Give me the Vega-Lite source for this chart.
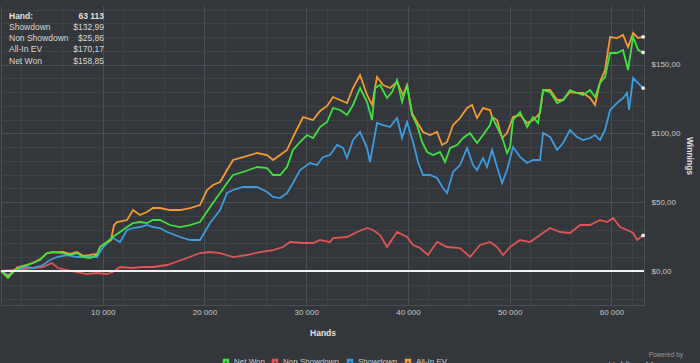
{
"$schema": "https://vega.github.io/schema/vega-lite/v6.json",
"width": 643,
"height": 299,
"autosize": {"type": "none"},
"padding": {"left": 1, "top": 6, "right": 56, "bottom": 58},
"background": "#33363a",
"config": {
  "font": "Liberation Sans",
  "view": {"stroke": null},
  "axis": {"labelOverlap": false}
},
"title": {"text": "Powered by", "subtitle": "Hold'em Manager", "orient": "bottom", "anchor": "end", "frame": "group", "fontSize": 6.5, "color": "#9a9a9a", "fontWeight": "normal", "subtitleFontSize": 9.5, "subtitleColor": "#b5b5b5", "subtitlePadding": 1, "offset": 0, "dx": 39, "dy": -17},
"datasets": {
  "runs": [
    {"series":"Net Won","hands":0,"winnings":0},{"series":"Net Won","hands":690,"winnings":-5.09},{"series":"Net Won","hands":1570,"winnings":2.18},{"series":"Net Won","hands":2560,"winnings":4.36},{"series":"Net Won","hands":3150,"winnings":5.81},{"series":"Net Won","hands":3830,"winnings":7.99},{"series":"Net Won","hands":4520,"winnings":13.08},{"series":"Net Won","hands":5110,"winnings":13.81},{"series":"Net Won","hands":6100,"winnings":13.08},{"series":"Net Won","hands":6780,"winnings":11.63},{"series":"Net Won","hands":7470,"winnings":13.08},{"series":"Net Won","hands":8060,"winnings":10.17},{"series":"Net Won","hands":8750,"winnings":9.45},{"series":"Net Won","hands":9440,"winnings":11.63},{"series":"Net Won","hands":9730,"winnings":17.44},{"series":"Net Won","hands":10420,"winnings":21.08},{"series":"Net Won","hands":11010,"winnings":24.71},{"series":"Net Won","hands":11700,"winnings":28.34},{"series":"Net Won","hands":12390,"winnings":31.98},{"series":"Net Won","hands":12980,"winnings":34.88},{"series":"Net Won","hands":13660,"winnings":35.61},{"series":"Net Won","hands":14350,"winnings":34.88},{"series":"Net Won","hands":14940,"winnings":37.06},{"series":"Net Won","hands":15630,"winnings":37.06},{"series":"Net Won","hands":16610,"winnings":33.43},{"series":"Net Won","hands":17600,"winnings":31.98},{"series":"Net Won","hands":18580,"winnings":33.43},{"series":"Net Won","hands":19560,"winnings":35.61},{"series":"Net Won","hands":20550,"winnings":46.51},{"series":"Net Won","hands":21530,"winnings":56.69},{"series":"Net Won","hands":22220,"winnings":63.95},{"series":"Net Won","hands":22810,"winnings":69.77},{"series":"Net Won","hands":23790,"winnings":71.95},{"series":"Net Won","hands":25170,"winnings":75.58},{"series":"Net Won","hands":26150,"winnings":74.85},{"series":"Net Won","hands":26740,"winnings":69.77},{"series":"Net Won","hands":27430,"winnings":69.77},{"series":"Net Won","hands":28110,"winnings":75.58},{"series":"Net Won","hands":28700,"winnings":87.94},{"series":"Net Won","hands":29390,"winnings":93.75},{"series":"Net Won","hands":30080,"winnings":98.84},{"series":"Net Won","hands":30670,"winnings":96.66},{"series":"Net Won","hands":31360,"winnings":104.65},{"series":"Net Won","hands":32050,"winnings":108.28},{"series":"Net Won","hands":32640,"winnings":118.46},{"series":"Net Won","hands":33320,"winnings":117.01},{"series":"Net Won","hands":34010,"winnings":113.37},{"series":"Net Won","hands":34600,"winnings":120.64},{"series":"Net Won","hands":35290,"winnings":132.99},{"series":"Net Won","hands":35980,"winnings":122.82},{"series":"Net Won","hands":36470,"winnings":109.74},{"series":"Net Won","hands":36770,"winnings":132.99},{"series":"Net Won","hands":37260,"winnings":135.17},{"series":"Net Won","hands":37940,"winnings":125.73},{"series":"Net Won","hands":38440,"winnings":130.09},{"series":"Net Won","hands":38930,"winnings":138.81},{"series":"Net Won","hands":39420,"winnings":122.82},{"series":"Net Won","hands":39910,"winnings":135.17},{"series":"Net Won","hands":40400,"winnings":113.37},{"series":"Net Won","hands":40890,"winnings":106.10},{"series":"Net Won","hands":41390,"winnings":93.75},{"series":"Net Won","hands":41880,"winnings":86.48},{"series":"Net Won","hands":42470,"winnings":84.30},{"series":"Net Won","hands":43150,"winnings":86.48},{"series":"Net Won","hands":43650,"winnings":79.22},{"series":"Net Won","hands":44140,"winnings":89.39},{"series":"Net Won","hands":44830,"winnings":91.57},{"series":"Net Won","hands":45420,"winnings":96.66},{"series":"Net Won","hands":46100,"winnings":100.29},{"series":"Net Won","hands":46790,"winnings":93.02},{"series":"Net Won","hands":47380,"winnings":98.84},{"series":"Net Won","hands":48070,"winnings":106.10},{"series":"Net Won","hands":48270,"winnings":111.92},{"series":"Net Won","hands":48760,"winnings":104.65},{"series":"Net Won","hands":49250,"winnings":97.38},{"series":"Net Won","hands":49740,"winnings":85.76},{"series":"Net Won","hands":50040,"winnings":90.12},{"series":"Net Won","hands":50330,"winnings":109.74},{"series":"Net Won","hands":51020,"winnings":115.55},{"series":"Net Won","hands":51710,"winnings":104.65},{"series":"Net Won","hands":52300,"winnings":111.92},{"series":"Net Won","hands":52790,"winnings":107.56},{"series":"Net Won","hands":53280,"winnings":131.54},{"series":"Net Won","hands":53970,"winnings":130.09},{"series":"Net Won","hands":54660,"winnings":122.09},{"series":"Net Won","hands":55250,"winnings":124.27},{"series":"Net Won","hands":55930,"winnings":131.54},{"series":"Net Won","hands":56620,"winnings":129.36},{"series":"Net Won","hands":57210,"winnings":127.91},{"series":"Net Won","hands":57900,"winnings":131.54},{"series":"Net Won","hands":58390,"winnings":126.45},{"series":"Net Won","hands":58880,"winnings":136.63},{"series":"Net Won","hands":59370,"winnings":140.99},{"series":"Net Won","hands":59870,"winnings":158.43},{"series":"Net Won","hands":60550,"winnings":158.43},{"series":"Net Won","hands":61140,"winnings":160.61},{"series":"Net Won","hands":61630,"winnings":146.08},{"series":"Net Won","hands":62130,"winnings":170.06},{"series":"Net Won","hands":62620,"winnings":160.61},{"series":"Net Won","hands":63113,"winnings":158.85},
    {"series":"All-In EV","hands":0,"winnings":0},{"series":"All-In EV","hands":690,"winnings":-4},{"series":"All-In EV","hands":1570,"winnings":2.5},{"series":"All-In EV","hands":2560,"winnings":4.5},{"series":"All-In EV","hands":3150,"winnings":6},{"series":"All-In EV","hands":3830,"winnings":8.5},{"series":"All-In EV","hands":4520,"winnings":13},{"series":"All-In EV","hands":5110,"winnings":13.5},{"series":"All-In EV","hands":6100,"winnings":13.8},{"series":"All-In EV","hands":6780,"winnings":12.5},{"series":"All-In EV","hands":7470,"winnings":13.8},{"series":"All-In EV","hands":8060,"winnings":11},{"series":"All-In EV","hands":8750,"winnings":11.63},{"series":"All-In EV","hands":9440,"winnings":12.5},{"series":"All-In EV","hands":9730,"winnings":17.44},{"series":"All-In EV","hands":10420,"winnings":21.08},{"series":"All-In EV","hands":10810,"winnings":22.5},{"series":"All-In EV","hands":11110,"winnings":33.43},{"series":"All-In EV","hands":11400,"winnings":35.61},{"series":"All-In EV","hands":12390,"winnings":37.06},{"series":"All-In EV","hands":12980,"winnings":44.33},{"series":"All-In EV","hands":13660,"winnings":40.7},{"series":"All-In EV","hands":14350,"winnings":42.9},{"series":"All-In EV","hands":14940,"winnings":45.78},{"series":"All-In EV","hands":15630,"winnings":45.78},{"series":"All-In EV","hands":16610,"winnings":44.33},{"series":"All-In EV","hands":17600,"winnings":44.33},{"series":"All-In EV","hands":18580,"winnings":45.78},{"series":"All-In EV","hands":19560,"winnings":47.97},{"series":"All-In EV","hands":20250,"winnings":58.87},{"series":"All-In EV","hands":20840,"winnings":62.5},{"series":"All-In EV","hands":21530,"winnings":64.68},{"series":"All-In EV","hands":22220,"winnings":73.4},{"series":"All-In EV","hands":22810,"winnings":80.67},{"series":"All-In EV","hands":23790,"winnings":82.85},{"series":"All-In EV","hands":25170,"winnings":85.76},{"series":"All-In EV","hands":26150,"winnings":84.3},{"series":"All-In EV","hands":26740,"winnings":80.67},{"series":"All-In EV","hands":27430,"winnings":84.3},{"series":"All-In EV","hands":28110,"winnings":87.94},{"series":"All-In EV","hands":28700,"winnings":97.38},{"series":"All-In EV","hands":29690,"winnings":111.92},{"series":"All-In EV","hands":30670,"winnings":109.74},{"series":"All-In EV","hands":31360,"winnings":116.3},{"series":"All-In EV","hands":32050,"winnings":120},{"series":"All-In EV","hands":32640,"winnings":126.45},{"series":"All-In EV","hands":33320,"winnings":124.27},{"series":"All-In EV","hands":34010,"winnings":122.09},{"series":"All-In EV","hands":34600,"winnings":132.99},{"series":"All-In EV","hands":35290,"winnings":142.44},{"series":"All-In EV","hands":35980,"winnings":127.91},{"series":"All-In EV","hands":36470,"winnings":120.64},{"series":"All-In EV","hands":36960,"winnings":140.99},{"series":"All-In EV","hands":37550,"winnings":135.17},{"series":"All-In EV","hands":38240,"winnings":132.99},{"series":"All-In EV","hands":38930,"winnings":137.35},{"series":"All-In EV","hands":39520,"winnings":127.91},{"series":"All-In EV","hands":39910,"winnings":135.17},{"series":"All-In EV","hands":40400,"winnings":114.83},{"series":"All-In EV","hands":40890,"winnings":108.28},{"series":"All-In EV","hands":41480,"winnings":101.02},{"series":"All-In EV","hands":42170,"winnings":98.84},{"series":"All-In EV","hands":42860,"winnings":101.02},{"series":"All-In EV","hands":43350,"winnings":91.57},{"series":"All-In EV","hands":43840,"winnings":93.75},{"series":"All-In EV","hands":44430,"winnings":106.10},{"series":"All-In EV","hands":45120,"winnings":111.19},{"series":"All-In EV","hands":45810,"winnings":118.46},{"series":"All-In EV","hands":46300,"winnings":120.64},{"series":"All-In EV","hands":46790,"winnings":111.19},{"series":"All-In EV","hands":47380,"winnings":118.46},{"series":"All-In EV","hands":48070,"winnings":117.01},{"series":"All-In EV","hands":48270,"winnings":111.92},{"series":"All-In EV","hands":48760,"winnings":109.74},{"series":"All-In EV","hands":49250,"winnings":96.66},{"series":"All-In EV","hands":49740,"winnings":100.29},{"series":"All-In EV","hands":50330,"winnings":111.92},{"series":"All-In EV","hands":51020,"winnings":113.37},{"series":"All-In EV","hands":51710,"winnings":107.56},{"series":"All-In EV","hands":52300,"winnings":109.74},{"series":"All-In EV","hands":52980,"winnings":114.83},{"series":"All-In EV","hands":53280,"winnings":131.54},{"series":"All-In EV","hands":53970,"winnings":131.54},{"series":"All-In EV","hands":54660,"winnings":124.27},{"series":"All-In EV","hands":55250,"winnings":124.27},{"series":"All-In EV","hands":55930,"winnings":130.09},{"series":"All-In EV","hands":56620,"winnings":129.36},{"series":"All-In EV","hands":57210,"winnings":129.36},{"series":"All-In EV","hands":57900,"winnings":125.73},{"series":"All-In EV","hands":58390,"winnings":120.64},{"series":"All-In EV","hands":58880,"winnings":137.35},{"series":"All-In EV","hands":59370,"winnings":146.08},{"series":"All-In EV","hands":59870,"winnings":170.06},{"series":"All-In EV","hands":60550,"winnings":169.33},{"series":"All-In EV","hands":61140,"winnings":171.51},{"series":"All-In EV","hands":61630,"winnings":162.79},{"series":"All-In EV","hands":62130,"winnings":172.97},{"series":"All-In EV","hands":62620,"winnings":169.33},{"series":"All-In EV","hands":63113,"winnings":170.17},
    {"series":"Showdown","hands":0,"winnings":0},{"series":"Showdown","hands":690,"winnings":-3},{"series":"Showdown","hands":1570,"winnings":1.5},{"series":"Showdown","hands":2560,"winnings":3},{"series":"Showdown","hands":3150,"winnings":2.18},{"series":"Showdown","hands":4130,"winnings":4.36},{"series":"Showdown","hands":4820,"winnings":7.99},{"series":"Showdown","hands":5510,"winnings":10.17},{"series":"Showdown","hands":6490,"winnings":11.63},{"series":"Showdown","hands":7470,"winnings":10.17},{"series":"Showdown","hands":8450,"winnings":10.17},{"series":"Showdown","hands":9440,"winnings":10.17},{"series":"Showdown","hands":10030,"winnings":17.44},{"series":"Showdown","hands":11010,"winnings":23.98},{"series":"Showdown","hands":11700,"winnings":21.08},{"series":"Showdown","hands":12390,"winnings":29.8},{"series":"Showdown","hands":12980,"winnings":31.25},{"series":"Showdown","hands":13660,"winnings":31.98},{"series":"Showdown","hands":14350,"winnings":33.43},{"series":"Showdown","hands":14940,"winnings":31.98},{"series":"Showdown","hands":15630,"winnings":31.25},{"series":"Showdown","hands":16320,"winnings":28.34},{"series":"Showdown","hands":16610,"winnings":27.62},{"series":"Showdown","hands":17600,"winnings":24.71},{"series":"Showdown","hands":18580,"winnings":22.53},{"series":"Showdown","hands":19560,"winnings":22.53},{"series":"Showdown","hands":20550,"winnings":34.88},{"series":"Showdown","hands":21530,"winnings":44.33},{"series":"Showdown","hands":22220,"winnings":56.69},{"series":"Showdown","hands":22810,"winnings":58.87},{"series":"Showdown","hands":23790,"winnings":61.05},{"series":"Showdown","hands":25170,"winnings":61.05},{"series":"Showdown","hands":26150,"winnings":57.41},{"series":"Showdown","hands":26740,"winnings":53.78},{"series":"Showdown","hands":27430,"winnings":53.05},{"series":"Showdown","hands":28110,"winnings":56.69},{"series":"Showdown","hands":28700,"winnings":63.95},{"series":"Showdown","hands":29390,"winnings":73.4},{"series":"Showdown","hands":30380,"winnings":78.49},{"series":"Showdown","hands":31060,"winnings":77.03},{"series":"Showdown","hands":31650,"winnings":82.85},{"series":"Showdown","hands":32340,"winnings":84.3},{"series":"Showdown","hands":33030,"winnings":91.57},{"series":"Showdown","hands":33620,"winnings":89.39},{"series":"Showdown","hands":34010,"winnings":82.12},{"series":"Showdown","hands":34600,"winnings":95.2},{"series":"Showdown","hands":35290,"winnings":101.02},{"series":"Showdown","hands":35980,"winnings":89.39},{"series":"Showdown","hands":36270,"winnings":79.22},{"series":"Showdown","hands":36960,"winnings":107.56},{"series":"Showdown","hands":37550,"winnings":106.1},{"series":"Showdown","hands":38240,"winnings":104.65},{"series":"Showdown","hands":38930,"winnings":111.19},{"series":"Showdown","hands":39420,"winnings":96.66},{"series":"Showdown","hands":39910,"winnings":108.28},{"series":"Showdown","hands":40500,"winnings":93.75},{"series":"Showdown","hands":40990,"winnings":79.22},{"series":"Showdown","hands":41480,"winnings":69.77},{"series":"Showdown","hands":42170,"winnings":69.77},{"series":"Showdown","hands":42860,"winnings":67.59},{"series":"Showdown","hands":43450,"winnings":60.32},{"series":"Showdown","hands":43840,"winnings":56.69},{"series":"Showdown","hands":44430,"winnings":71.95},{"series":"Showdown","hands":45120,"winnings":77.03},{"series":"Showdown","hands":45810,"winnings":89.39},{"series":"Showdown","hands":46400,"winnings":77.03},{"series":"Showdown","hands":46790,"winnings":73.4},{"series":"Showdown","hands":47380,"winnings":82.12},{"series":"Showdown","hands":47770,"winnings":75.58},{"series":"Showdown","hands":48270,"winnings":87.94},{"series":"Showdown","hands":48760,"winnings":75.58},{"series":"Showdown","hands":49250,"winnings":63.95},{"series":"Showdown","hands":49740,"winnings":73.4},{"series":"Showdown","hands":50330,"winnings":90.12},{"series":"Showdown","hands":51020,"winnings":82.85},{"series":"Showdown","hands":51710,"winnings":78.49},{"series":"Showdown","hands":52300,"winnings":80.67},{"series":"Showdown","hands":52980,"winnings":80.67},{"series":"Showdown","hands":53280,"winnings":100.29},{"series":"Showdown","hands":53970,"winnings":97.38},{"series":"Showdown","hands":54660,"winnings":87.94},{"series":"Showdown","hands":55250,"winnings":93.02},{"series":"Showdown","hands":55930,"winnings":102.47},{"series":"Showdown","hands":56620,"winnings":97.38},{"series":"Showdown","hands":57210,"winnings":95.2},{"series":"Showdown","hands":57900,"winnings":96.66},{"series":"Showdown","hands":58390,"winnings":98.84},{"series":"Showdown","hands":58880,"winnings":95.2},{"series":"Showdown","hands":59370,"winnings":102.47},{"series":"Showdown","hands":59870,"winnings":117.01},{"series":"Showdown","hands":60550,"winnings":122.09},{"series":"Showdown","hands":61140,"winnings":125.73},{"series":"Showdown","hands":61540,"winnings":129.36},{"series":"Showdown","hands":61730,"winnings":117.01},{"series":"Showdown","hands":62130,"winnings":140.26},{"series":"Showdown","hands":62620,"winnings":136.63},{"series":"Showdown","hands":63113,"winnings":132.99},
    {"series":"Non Showdown","hands":0,"winnings":0},{"series":"Non Showdown","hands":1570,"winnings":0.73},{"series":"Non Showdown","hands":3150,"winnings":2.18},{"series":"Non Showdown","hands":4130,"winnings":2.91},{"series":"Non Showdown","hands":5010,"winnings":5.81},{"series":"Non Showdown","hands":5600,"winnings":2.18},{"series":"Non Showdown","hands":6490,"winnings":0.73},{"series":"Non Showdown","hands":7470,"winnings":-0.73},{"series":"Non Showdown","hands":8450,"winnings":-2.18},{"series":"Non Showdown","hands":9440,"winnings":-1.45},{"series":"Non Showdown","hands":10420,"winnings":-2.18},{"series":"Non Showdown","hands":11010,"winnings":-0.73},{"series":"Non Showdown","hands":11700,"winnings":2.91},{"series":"Non Showdown","hands":12980,"winnings":2.18},{"series":"Non Showdown","hands":13960,"winnings":2.91},{"series":"Non Showdown","hands":14940,"winnings":2.91},{"series":"Non Showdown","hands":16320,"winnings":4.36},{"series":"Non Showdown","hands":16910,"winnings":5.81},{"series":"Non Showdown","hands":18280,"winnings":9.45},{"series":"Non Showdown","hands":19560,"winnings":13.08},{"series":"Non Showdown","hands":20550,"winnings":13.81},{"series":"Non Showdown","hands":21530,"winnings":13.08},{"series":"Non Showdown","hands":22810,"winnings":10.17},{"series":"Non Showdown","hands":24180,"winnings":11.63},{"series":"Non Showdown","hands":25460,"winnings":13.81},{"series":"Non Showdown","hands":26740,"winnings":15.26},{"series":"Non Showdown","hands":27720,"winnings":17.44},{"series":"Non Showdown","hands":28410,"winnings":21.08},{"series":"Non Showdown","hands":29690,"winnings":20.35},{"series":"Non Showdown","hands":30670,"winnings":20.35},{"series":"Non Showdown","hands":31360,"winnings":22.53},{"series":"Non Showdown","hands":32340,"winnings":21.08},{"series":"Non Showdown","hands":32640,"winnings":23.98},{"series":"Non Showdown","hands":34010,"winnings":24.71},{"series":"Non Showdown","hands":35000,"winnings":28.34},{"series":"Non Showdown","hands":35980,"winnings":31.25},{"series":"Non Showdown","hands":36570,"winnings":29.8},{"series":"Non Showdown","hands":37260,"winnings":26.16},{"series":"Non Showdown","hands":37940,"winnings":17.44},{"series":"Non Showdown","hands":38930,"winnings":28.34},{"series":"Non Showdown","hands":39910,"winnings":24.71},{"series":"Non Showdown","hands":40500,"winnings":18.9},{"series":"Non Showdown","hands":41190,"winnings":16.72},{"series":"Non Showdown","hands":41970,"winnings":11.63},{"series":"Non Showdown","hands":42860,"winnings":21.08},{"series":"Non Showdown","hands":43840,"winnings":17.44},{"series":"Non Showdown","hands":45120,"winnings":16.72},{"series":"Non Showdown","hands":46100,"winnings":10.17},{"series":"Non Showdown","hands":47090,"winnings":18.9},{"series":"Non Showdown","hands":48070,"winnings":21.08},{"series":"Non Showdown","hands":48760,"winnings":17.44},{"series":"Non Showdown","hands":49350,"winnings":11.63},{"series":"Non Showdown","hands":50040,"winnings":17.44},{"series":"Non Showdown","hands":51020,"winnings":22.53},{"series":"Non Showdown","hands":52000,"winnings":21.08},{"series":"Non Showdown","hands":52980,"winnings":26.16},{"series":"Non Showdown","hands":53970,"winnings":31.25},{"series":"Non Showdown","hands":54950,"winnings":28.34},{"series":"Non Showdown","hands":55930,"winnings":27.62},{"series":"Non Showdown","hands":56920,"winnings":33.43},{"series":"Non Showdown","hands":57900,"winnings":33.43},{"series":"Non Showdown","hands":58880,"winnings":37.06},{"series":"Non Showdown","hands":59570,"winnings":35.61},{"series":"Non Showdown","hands":60160,"winnings":38.52},{"series":"Non Showdown","hands":60850,"winnings":31.98},{"series":"Non Showdown","hands":61540,"winnings":29.8},{"series":"Non Showdown","hands":62130,"winnings":27.62},{"series":"Non Showdown","hands":62520,"winnings":22.53},{"series":"Non Showdown","hands":63113,"winnings":25.86}
  ],
  "summary": [
    {"row": 1, "label": "Hand:", "amount": "63 113"},
    {"row": 2, "label": "Showdown", "amount": "$132,99"},
    {"row": 3, "label": "Non Showdown", "amount": "$25,86"},
    {"row": 4, "label": "All-In EV", "amount": "$170,17"},
    {"row": 5, "label": "Net Won", "amount": "$158,85"}
  ]
},
"layer": [
  {
    "data": {"name": "runs"},
    "encoding": {
      "x": {"field": "hands", "type": "quantitative",
        "scale": {"domain": [0, 63200], "nice": false, "zero": false},
        "axis": {"orient": "bottom", "title": "Hands", "values": [0,10000,20000,30000,40000,50000,60000],
          "labelExpr": "datum.value > 0 ? replace(format(datum.value, ','), ',', ' ') : ''",
          "grid": true, "gridColor": "#4b4f55",
          "ticks": false, "domain": true, "domainColor": "#4b4f55", "labelColor": "#c8c8c8", "labelFontSize": 8, "labelPadding": 3, "labelOverlap": false, "labelFlush": false, "labelBound": false,
          "titleColor": "#e0e0e0", "titleFontSize": 8.5, "titleFontWeight": "bold", "titlePadding": 12}},
      "y": {"field": "winnings", "type": "quantitative",
        "scale": {"domain": [-24.7, 192.6], "nice": false, "zero": false},
        "axis": {"orient": "right", "title": "Winnings", "values": [-20,-10,0,10,20,30,40,50,60,70,80,90,100,110,120,130,140,150,160,170,180,190],
          "labelExpr": "datum.value % 50 === 0 && datum.value >= 0 ? '$' + replace(format(datum.value, '.2f'), '.', ',') : ''",
          "grid": true,
          "gridColor": {"condition": {"test": "datum.value % 50 === 0", "value": "#4b4f55"}, "value": "#3e4146"},
          "ticks": false, "domain": true, "domainColor": "#4b4f55", "labelAlign": "left", "labelPadding": 7, "labelColor": "#c8c8c8", "labelFontSize": 8, "labelOverlap": false, "labelFlush": false,
          "titleColor": "#e0e0e0", "titleFontSize": 8.5, "titleFontWeight": "bold", "titlePadding": 5}},
      "color": {"field": "series", "type": "nominal",
        "scale": {"domain": ["Net Won", "Non Showdown", "Showdown", "All-In EV"], "range": ["#41e141", "#e05454", "#3d9ce0", "#f39a33"]},
        "legend": {"orient": "none", "legendX": 221, "legendY": 352, "direction": "horizontal", "title": null, "symbolType": "square", "symbolSize": 16, "symbolStrokeWidth": 2.5, "symbolOpacity": 1, "labelFontSize": 8, "labelColor": "#cccccc", "columnPadding": 3, "labelOffset": 4}}
    },
    "layer": [
      {"transform": [{"filter": "datum.series === 'Non Showdown'"}], "mark": {"type": "line", "strokeWidth": 1.8}},
      {"transform": [{"filter": "datum.series === 'Showdown'"}], "mark": {"type": "line", "strokeWidth": 1.8}},
      {"transform": [{"filter": "datum.series === 'All-In EV'"}], "mark": {"type": "line", "strokeWidth": 1.8}},
      {"transform": [{"filter": "datum.series === 'Net Won'"}], "mark": {"type": "line", "strokeWidth": 1.8}},
      {"mark": {"type": "rule", "color": "#f2f2f2", "strokeWidth": 2}, "encoding": {"x": {"datum": 0}, "x2": {"datum": 63200}, "y": {"datum": 0}, "color": {"value": "#f2f2f2"}}},
      {"transform": [{"filter": "datum.hands === 63113"}], "mark": {"type": "point", "filled": true, "size": 14, "opacity": 1}, "encoding": {"color": {"value": "#f2f2f2"}}}
    ]
  },
  {
    "data": {"name": "summary"},
    "encoding": {
      "y": {"field": "row", "type": "quantitative", "scale": {"domain": [0.138, 26.72], "reverse": true, "nice": false, "zero": false}, "axis": null}
    },
    "layer": [
      {"data": {"values": [{"panel": "summary"}]}, "mark": {"type": "rect", "color": "#25272b", "opacity": 0.9},
        "encoding": {"x": {"datum": 393, "axis": {"orient": "bottom", "values": [2000,4000,6000,8000,12000,14000,16000,18000,22000,24000,26000,28000,32000,34000,36000,38000,42000,44000,46000,48000,52000,54000,56000,58000,62000], "grid": true, "gridColor": "#3e4146", "labels": false, "ticks": false, "domain": false, "title": null}},
          "x2": {"datum": 10420}, "y": {"datum": 0.227}, "y2": {"datum": 5.56}}},
      {"transform": [{"filter": "datum.row === 1"}], "mark": {"type": "text", "align": "left", "baseline": "middle", "fontSize": 8.5, "fontWeight": "bold", "color": "#e0e0e0"}, "encoding": {"x": {"datum": 786}, "text": {"field": "label"}}},
      {"transform": [{"filter": "datum.row > 1"}], "mark": {"type": "text", "align": "left", "baseline": "middle", "fontSize": 8.5, "color": "#d8d8d8"}, "encoding": {"x": {"datum": 786}, "text": {"field": "label"}}},
      {"transform": [{"filter": "datum.row === 1"}], "mark": {"type": "text", "align": "right", "baseline": "middle", "fontSize": 8.5, "fontWeight": "bold", "color": "#e0e0e0"}, "encoding": {"x": {"datum": 10124}, "text": {"field": "amount"}}},
      {"transform": [{"filter": "datum.row > 1"}], "mark": {"type": "text", "align": "right", "baseline": "middle", "fontSize": 8.5, "color": "#d8d8d8"}, "encoding": {"x": {"datum": 10124}, "text": {"field": "amount"}}}
    ]
  }
],
"resolve": {"scale": {"y": "independent"}, "axis": {"x": "independent"}}
}
